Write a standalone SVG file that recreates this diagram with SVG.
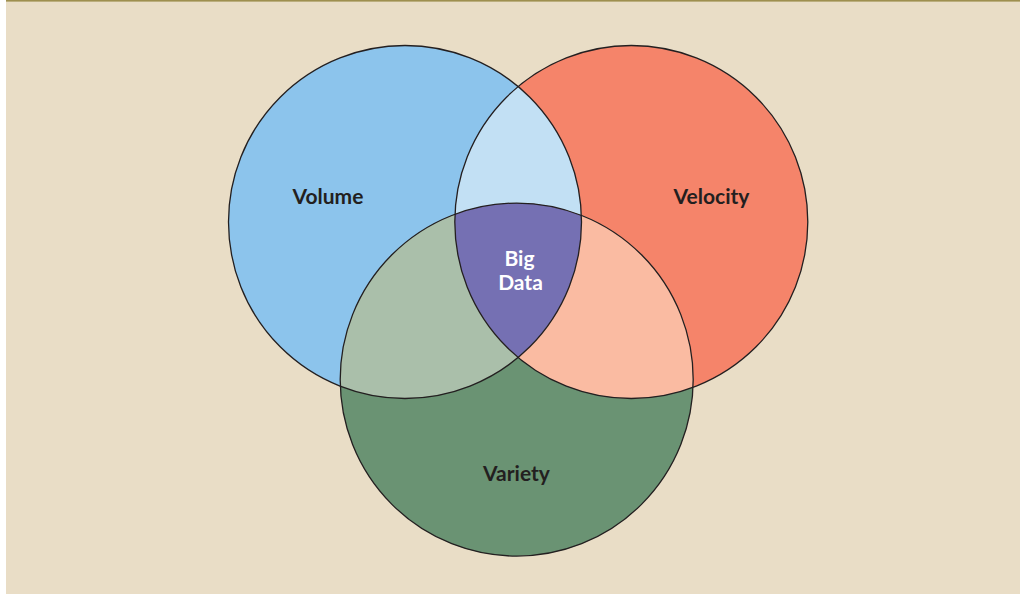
<svg xmlns="http://www.w3.org/2000/svg" width="1020" height="594" viewBox="0 0 1020 594">
<style>
.lbl{font-family:Lato,"Open Sans","Liberation Sans",sans-serif;font-weight:bold;text-anchor:middle}
.dark{fill:#231F20;font-size:21px}
.light{fill:#FFFFFF;font-size:21px}
.edge{fill:none;stroke:#231F20;stroke-width:1.3}
</style>
<defs>
<clipPath id="cVol"><circle cx="405" cy="222" r="176.5"/></clipPath>
<clipPath id="cVel"><circle cx="631.3" cy="222" r="176.5"/></clipPath>
</defs>
<rect x="0" y="0" width="1020" height="594" fill="#FFFFFF"/>
<rect x="6" y="0" width="1014" height="594" fill="#E9DDC6"/>
<rect x="6" y="0" width="1014" height="1.6" fill="#9E8F4F"/>
<g id="volume">
<circle cx="405" cy="222" r="176.5" fill="#8CC4EC"/>
</g>
<g id="velocity">
<circle cx="631.3" cy="222" r="176.5" fill="#F5846A"/>
</g>
<g id="variety">
<circle cx="516.7" cy="379.6" r="176.5" fill="#6A9373"/>
</g>
<g id="volume-velocity">
<circle cx="631.3" cy="222" r="176.5" fill="#C2E0F4" clip-path="url(#cVol)"/>
</g>
<g id="volume-variety">
<circle cx="516.7" cy="379.6" r="176.5" fill="#AABFAA" clip-path="url(#cVol)"/>
</g>
<g id="velocity-variety">
<circle cx="516.7" cy="379.6" r="176.5" fill="#FABBA2" clip-path="url(#cVel)"/>
</g>
<g id="big-data">
<g clip-path="url(#cVel)">
<circle cx="516.7" cy="379.6" r="176.5" fill="#7570B3" clip-path="url(#cVol)"/>
</g>
</g>
<g id="outlines">
<circle class="edge" cx="405" cy="222" r="176.5"/>
<circle class="edge" cx="631.3" cy="222" r="176.5"/>
<circle class="edge" cx="516.7" cy="379.6" r="176.5"/>
</g>
<g id="labels">
<text class="lbl dark" x="328" y="204">Volume</text>
<text class="lbl dark" x="711.5" y="204">Velocity</text>
<text class="lbl dark" x="516.5" y="481">Variety</text>
<text class="lbl light" x="519.5" y="266">Big</text>
<text class="lbl light" x="520.5" y="289.5">Data</text>
</g>
<g id="connectors"/>
</svg>
